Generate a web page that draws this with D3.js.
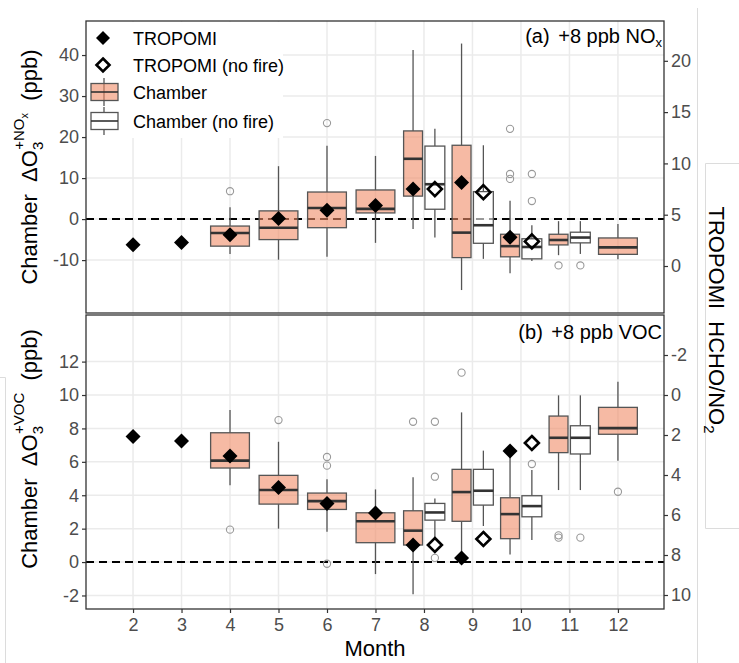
<!DOCTYPE html>
<html><head><meta charset="utf-8">
<script src="https://cdn.jsdelivr.net/npm/d3@7/dist/d3.min.js"></script>
<style>body{margin:0;background:#fff;} svg{display:block;font-family:"Liberation Sans",Arial,sans-serif;} text{white-space:pre;}</style>
</head><body><svg id="c" width="739" height="663"></svg>
<script>
// ---------- data ----------
const months = [2,3,4,5,6,7,8,9,10,11,12];
const tropomiMonths = [2,3,4,5,6,7,8,9,10];
const tropomiRatio = [2.07,2.3,3.05,4.63,5.43,5.9,7.5,8.15,2.8];
const noFireMonths = [8,9,10];
const tropomiNoFireRatio = [7.5,7.2,2.4];

const chamberMonths = [4,5,6,7,8,9,10,11,12];
const noFireBoxMonths = [8,9,10,11];

// (a) +8 ppb NOx
const noxChamberLo  = [-8.5,-9.9,-9.2,-5.8,-2.4,-17.3,-13.2,-8.8,-9.8];
const noxChamberQ1  = [-6.6,-5.0,-2.1,1.5,5.6,-9.4,-9.2,-6.3,-8.6];
const noxChamberMed = [-3.4,-2.1,2.7,2.5,14.7,-3.3,-6.6,-5.1,-6.9];
const noxChamberQ3  = [-1.7,2.0,6.6,7.1,21.5,18.0,-3.7,-3.7,-4.6];
const noxChamberHi  = [2.9,12.9,17.9,15.4,41.2,42.8,4.5,-0.5,-1.2];
const noxChamberOut = [[6.8],[22.3,23.1,26.2],[23.4],[],[],[],[9.8,11.0,22.0],[-11.3],[]];

const noxNoFireLo  = [-4.5,-9.7,-10.2,-8.5];
const noxNoFireQ1  = [2.4,-5.9,-9.7,-5.8];
const noxNoFireMed = [8.5,-1.5,-6.8,-4.5];
const noxNoFireQ3  = [17.8,6.7,-4.8,-3.2];
const noxNoFireHi  = [22.0,18.0,-1.5,-0.5];
const noxNoFireOut = [[],[],[4.4,11.0],[-11.3]];

// (b) +8 ppb VOC
const vocChamberLo  = [4.6,2.0,1.82,-0.72,-1.92,0.28,0.46,4.31,6.07];
const vocChamberQ1  = [5.63,3.47,3.15,1.16,1.02,2.44,1.4,6.55,7.65];
const vocChamberMed = [6.07,4.31,3.65,2.44,1.88,4.19,2.87,7.44,8.02];
const vocChamberQ3  = [7.74,5.19,4.13,2.95,3.07,5.55,3.85,8.74,9.26];
const vocChamberHi  = [9.1,7.2,4.95,4.35,5.07,8.96,6.63,9.98,10.8];
const vocChamberOut = [[1.94],[8.5],[-0.1,5.77,6.29],[],[8.4],[11.34],[],[1.46,1.6],[4.21]];

const vocNoFireLo  = [1.32,2.16,1.32,4.31];
const vocNoFireQ1  = [2.51,3.41,2.71,6.47];
const vocNoFireMed = [2.97,4.27,3.35,7.44];
const vocNoFireQ3  = [3.51,5.55,3.97,8.16];
const vocNoFireHi  = [3.81,6.67,5.51,9.98];
const vocNoFireOut = [[0.25,5.11,8.4],[],[5.87],[1.46]];

const noxLeftTicks = [-10,0,10,20,30,40];
const noxRightTicks = [0,5,10,15,20];
const vocLeftTicks = [-2,0,2,4,6,8,10,12];
const vocRightTicks = [-2,0,2,4,6,8,10];
const legendLabels = ["TROPOMI","TROPOMI (no fire)","Chamber","Chamber (no fire)"];

// ---------- layout ----------
const svg = d3.select("#c");
const L = 86, R = 664;
const x = d3.scaleLinear().domain([1.03,12.95]).range([L,R]);
const fmt = d => String(d);
const panels = [
  {top:21, bottom:313,
   yl: d3.scaleLinear().domain([-22.9,48.3]).range([313,21]),
   yr: d3.scaleLinear().domain([-4.58,23.88]).range([313,21]),
   lt: noxLeftTicks, rt: noxRightTicks,
   ch:{lo:noxChamberLo,q1:noxChamberQ1,med:noxChamberMed,q3:noxChamberQ3,hi:noxChamberHi,out:noxChamberOut},
   nf:{lo:noxNoFireLo,q1:noxNoFireQ1,med:noxNoFireMed,q3:noxNoFireQ3,hi:noxNoFireHi,out:noxNoFireOut},
   sup:["+NO","x"], label:["(a)"," +8 ppb NO","x"], labelY:43, titleY:167},
  {top:315, bottom:609,
   yl: d3.scaleLinear().domain([-2.81,14.79]).range([609,315]),
   yr: d3.scaleLinear().domain([-4.0,10.7]).range([315,609]),
   lt: vocLeftTicks, rt: vocRightTicks,
   ch:{lo:vocChamberLo,q1:vocChamberQ1,med:vocChamberMed,q3:vocChamberQ3,hi:vocChamberHi,out:vocChamberOut},
   nf:{lo:vocNoFireLo,q1:vocNoFireQ1,med:vocNoFireMed,q3:vocNoFireQ3,hi:vocNoFireHi,out:vocNoFireOut},
   sup:["+VOC",""], label:["(b)"," +8 ppb VOC",""], labelY:339, titleY:449}
];

// background frame artifacts
const frame = svg.append("g").attr("stroke","#dcdcdc").attr("stroke-width",1).attr("fill","none");
frame.append("path").attr("d","M0,377.5H5.5V663");
frame.append("path").attr("d","M697.5,8V663");
frame.append("path").attr("d","M739,163.5H705.5V528.5H739");

const diamond = h => `M0,${-h}L${h},0L0,${h}L${-h},0Z`;
const boxFill = "#F08C68", boxOpacity = 0.6;

panels.forEach((p,pi) => {
  const g = svg.append("g");
  // grid
  g.selectAll(".vg").data(months).join("line")
    .attr("x1",d=>x(d)).attr("x2",d=>x(d)).attr("y1",p.top).attr("y2",p.bottom)
    .attr("stroke","#ebebeb").attr("stroke-width",1.5);
  g.selectAll(".hg").data(p.lt).join("line")
    .attr("x1",L).attr("x2",R).attr("y1",d=>p.yl(d)).attr("y2",d=>p.yl(d))
    .attr("stroke","#ebebeb").attr("stroke-width",1.5);

  // zero line
  g.append("line").attr("x1",L).attr("x2",R).attr("y1",p.yl(0)).attr("y2",p.yl(0))
    .attr("stroke","#000").attr("stroke-width",2).attr("stroke-dasharray","8,5");

  // boxes
  function drawBoxes(ms, s, dodge, fill, op){
    ms.forEach((m,i) => {
      const isD = dodge(m);
      const cx = isD.off === 0 ? x(m) : x(m + isD.off);
      const w = x(m + isD.w/2) - x(m - isD.w/2);
      const bg = g.append("g");
      bg.append("line").attr("x1",cx).attr("x2",cx).attr("y1",p.yl(s.hi[i])).attr("y2",p.yl(s.q3[i]))
        .attr("stroke","#555").attr("stroke-width",1.3);
      bg.append("line").attr("x1",cx).attr("x2",cx).attr("y1",p.yl(s.q1[i])).attr("y2",p.yl(s.lo[i]))
        .attr("stroke","#555").attr("stroke-width",1.3);
      bg.append("rect").attr("x",cx-w/2).attr("width",w)
        .attr("y",p.yl(s.q3[i])).attr("height",p.yl(s.q1[i])-p.yl(s.q3[i]))
        .attr("fill",fill).attr("fill-opacity",op).attr("stroke","#555").attr("stroke-width",1.3);
      bg.append("line").attr("x1",cx-w/2).attr("x2",cx+w/2).attr("y1",p.yl(s.med[i])).attr("y2",p.yl(s.med[i]))
        .attr("stroke","#333").attr("stroke-width",2.6);
      bg.selectAll("circle").data(s.out[i]).join("circle")
        .attr("cx",cx).attr("cy",d=>p.yl(d)).attr("r",3.6)
        .attr("fill","none").attr("stroke","#999").attr("stroke-width",1.1);
    });
  }
  drawBoxes(chamberMonths, p.ch, m => noFireBoxMonths.includes(m) ? {off:-0.225,w:0.39} : {off:0,w:0.8}, boxFill, boxOpacity);
  drawBoxes(noFireBoxMonths, p.nf, m => ({off:0.225,w:0.41}), "#fff", 0.6);

  // TROPOMI diamonds
  g.selectAll(".td").data(tropomiMonths).join("path")
    .attr("d",diamond(7.5))
    .attr("transform",(m,i)=>`translate(${x(noFireMonths.includes(m)? m-0.225 : m)},${p.yr(tropomiRatio[i])})`)
    .attr("fill","#000");
  g.selectAll(".tn").data(noFireMonths).join("path")
    .attr("d",diamond(7))
    .attr("transform",(m,i)=>`translate(${x(m+0.225)},${p.yr(tropomiNoFireRatio[i])})`)
    .attr("fill","none").attr("stroke","#000").attr("stroke-width",2.6);

  // border
  g.append("rect").attr("x",L).attr("y",p.top).attr("width",R-L).attr("height",p.bottom-p.top)
    .attr("fill","none").attr("stroke","#333").attr("stroke-width",1.3);

  // left axis
  const la = g.append("g").attr("transform",`translate(${L},0)`)
    .call(d3.axisLeft(p.yl).tickValues(p.lt).tickSize(4).tickPadding(3).tickFormat(fmt));
  la.select(".domain").remove();
  la.selectAll("line").attr("stroke","#333").attr("stroke-width",1.2);
  la.selectAll("text").attr("fill","#4d4d4d").style("font-size","18px").style("font-family","Liberation Sans, Arial, sans-serif");
  // right axis
  const ra = g.append("g").attr("transform",`translate(${R},0)`)
    .call(d3.axisRight(p.yr).tickValues(p.rt).tickSize(4).tickPadding(3).tickFormat(fmt));
  ra.select(".domain").remove();
  ra.selectAll("line").attr("stroke","#333").attr("stroke-width",1.2);
  ra.selectAll("text").attr("fill","#4d4d4d").style("font-size","18px").style("font-family","Liberation Sans, Arial, sans-serif");

  // panel label
  const pl = g.append("text").attr("x",R-2).attr("y",p.labelY).attr("text-anchor","end")
    .style("font-size","20px").attr("fill","#000");
  pl.append("tspan").text(p.label[0]);
  pl.append("tspan").attr("dx",3).text(p.label[1]);
  if (p.label[2]) pl.append("tspan").attr("dy",4).style("font-size","13px").text(p.label[2]);

  // left axis title
  const t = g.append("text").attr("transform",`translate(37,${p.titleY}) rotate(-90)`)
    .attr("text-anchor","middle").style("font-size","22px").attr("fill","#000");
  t.append("tspan").text("Chamber  ΔO");
  t.append("tspan").attr("dy",6).style("font-size","15px").text("3");
  t.append("tspan").attr("dx",-8).attr("dy",-19).style("font-size","15px").text(p.sup[0]);
  if (p.sup[1]) {
    t.append("tspan").attr("dy",4).style("font-size","11px").text(p.sup[1]);
    t.append("tspan").attr("dy",9).text("  (ppb)");
  } else {
    t.append("tspan").attr("dy",13).text("  (ppb)");
  }
});

// x axis (bottom)
const xa = svg.append("g").attr("transform","translate(0,609)")
  .call(d3.axisBottom(x).tickValues(months).tickSize(4).tickPadding(5).tickFormat(fmt));
xa.select(".domain").remove();
xa.selectAll("line").attr("stroke","#333").attr("stroke-width",1.2);
xa.selectAll("text").attr("fill","#4d4d4d").style("font-size","18px").style("font-family","Liberation Sans, Arial, sans-serif");
svg.append("text").attr("x",(L+R)/2).attr("y",656).attr("text-anchor","middle")
  .style("font-size","22px").text("Month");

// right axis title
const rt = svg.append("text").attr("transform","translate(709,320) rotate(90)")
  .attr("text-anchor","middle").style("font-size","22px").attr("fill","#000");
rt.append("tspan").text("TROPOMI  HCHO/NO");
rt.append("tspan").attr("dy",5).style("font-size","15px").text("2");

// legend
const lg = svg.append("g");
lg.append("rect").attr("x",87).attr("y",22).attr("width",196).attr("height",116).attr("fill","#fff");
const ly = [38,65,92,121];
lg.append("path").attr("d",diamond(7)).attr("transform",`translate(103,${ly[0]})`).attr("fill","#000");
lg.append("path").attr("d",diamond(6.5)).attr("transform",`translate(103,${ly[1]})`)
  .attr("fill","none").attr("stroke","#000").attr("stroke-width",2.6);
[[boxFill,boxOpacity],["#fff",1]].forEach((f,k)=>{
  const cy = ly[2+k];
  lg.append("line").attr("x1",104).attr("x2",104).attr("y1",cy-14).attr("y2",cy+14).attr("stroke","#555").attr("stroke-width",1.3);
  lg.append("rect").attr("x",91).attr("y",cy-8.5).attr("width",27).attr("height",17)
    .attr("fill",f[0]).attr("fill-opacity",f[1]).attr("stroke","#555").attr("stroke-width",1.3);
  lg.append("line").attr("x1",91).attr("x2",118).attr("y1",cy).attr("y2",cy).attr("stroke","#333").attr("stroke-width",1.6);
});
lg.selectAll(".lt").data(legendLabels).join("text")
  .attr("x",133).attr("y",(d,i)=>ly[i]+6.5).style("font-size","18px").attr("fill","#000").text(d=>d);
</script></body></html>
